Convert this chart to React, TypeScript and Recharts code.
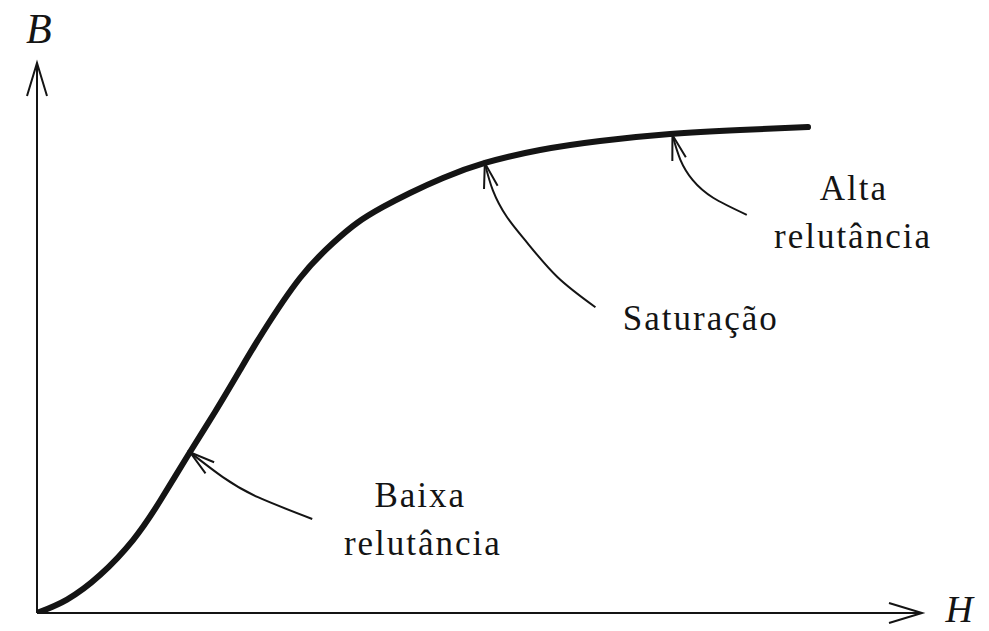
import React from "react";
import {
  Line,
  LineChart,
  ReferenceDot,
  ReferenceLine,
  XAxis,
  YAxis,
} from "recharts";

// B-H magnetisation curve (arbitrary units, 0..100 on both axes)
const curveH = [0, 3.39, 7.12, 10.85, 13.9, 17.29, 20.11, 22.94, 25.54, 29.72, 33.45, 36.16, 39.1, 42.15, 45.88, 50.62, 56.84, 63.62, 71.53, 79.44, 87.12];
const curveB = [0, 2.45, 6.91, 13.27, 20.36, 29.27, 36.55, 44.18, 51.09, 60.91, 67.27, 70.91, 73.82, 76.36, 79.09, 81.82, 84.18, 85.82, 87.09, 87.82, 88.36];

// annotation arrows, drawn from tail to tip
const lowH = [31.1, 24.9, 21.0, 17.3];
const lowB = [17.1, 21.1, 24.7, 29.2];
const satH = [63.1, 58.8, 55.4, 53.1, 51.5, 50.6];
const satB = [55.6, 61.1, 67.3, 72.0, 76.9, 81.8];
const highH = [80.2, 76.4, 74.1, 72.7, 71.8];
const highB = [72.4, 75.5, 78.7, 82.4, 86.9];

const labels = [
  { text: "Baixa", h: 43.3, b: 19.3 },
  { text: "relutância", h: 43.6, b: 10.5 },
  { text: "Saturação", h: 75.0, b: 51.5 },
  { text: "Alta", h: 92.3, b: 75.1 },
  { text: "relutância", h: 92.2, b: 66.4 },
];

const axisLabels = [
  { text: "B", h: 0.2, b: 103.6, size: 42 },
  { text: "H", h: 104.2, b: -1.64, size: 38 },
];

const toRows = (hs: number[], bs: number[]) => hs.map((h, i) => ({ h, b: bs[i] }));

const curveData = toRows(curveH, curveB);
const arrows = [toRows(lowH, lowB), toRows(satH, satB), toRows(highH, highB)];

const ink = "#141414";

const axisShape = (props: any) => (
  <line
    x1={props.x1}
    y1={props.y1}
    x2={props.x2}
    y2={props.y2}
    stroke={ink}
    strokeWidth={2}
    markerEnd="url(#axisHead)"
  />
);

const textLabel = (text: string, size: number, italic: boolean, spacing: number) => (props: any) => {
  const { viewBox } = props;
  const x = viewBox.x + (viewBox.width || 0) / 2;
  const y = viewBox.y + (viewBox.height || 0) / 2;
  return (
    <text
      x={x}
      y={y}
      textAnchor="middle"
      fill={ink}
      fontFamily="'Liberation Serif', serif"
      fontSize={size}
      fontStyle={italic ? "italic" : "normal"}
      letterSpacing={spacing}
    >
      {text}
    </text>
  );
};

export default function App() {
  return (
    <div style={{ position: "absolute", left: 0, top: 0, width: 989, height: 631, background: "#fff" }}>
      <svg width={0} height={0} style={{ position: "absolute" }}>
        <defs>
          <marker
            id="axisHead"
            markerUnits="userSpaceOnUse"
            markerWidth={40}
            markerHeight={30}
            refX={34}
            refY={11}
            orient="auto"
          >
            <path d="M1,1 L34,11 L1,21" fill="none" stroke={ink} strokeWidth={2} />
          </marker>
          <marker
            id="noteHead"
            markerUnits="userSpaceOnUse"
            markerWidth={30}
            markerHeight={20}
            refX={26}
            refY={8}
            orient="auto"
          >
            <path d="M1,1 L26,8 L1,15" fill="none" stroke={ink} strokeWidth={2} />
          </marker>
        </defs>
      </svg>
      <LineChart width={989} height={631} margin={{ top: 63, right: 67, left: 37, bottom: 18 }}>
        <XAxis type="number" dataKey="h" domain={[0, 100]} hide allowDataOverflow />
        <YAxis type="number" dataKey="b" domain={[0, 100]} hide allowDataOverflow />

        <ReferenceLine segment={[{ x: 0, y: 0 }, { x: 100, y: 0 }]} shape={axisShape} ifOverflow="visible" />
        <ReferenceLine segment={[{ x: 0, y: 0 }, { x: 0, y: 100 }]} shape={axisShape} ifOverflow="visible" />

        <Line
          data={curveData}
          dataKey="b"
          type="natural"
          stroke={ink}
          strokeWidth={6}
          strokeLinecap="round"
          dot={false}
          activeDot={false}
          isAnimationActive={false}
        />

        {arrows.map((rows, i) => (
          <Line
            key={`arrow-${i}`}
            data={rows}
            dataKey="b"
            type="natural"
            stroke={ink}
            strokeWidth={2}
            dot={false}
            activeDot={false}
            markerEnd="url(#noteHead)"
            isAnimationActive={false}
          />
        ))}

        {labels.map((l, i) => (
          <ReferenceDot
            key={`label-${i}`}
            x={l.h}
            y={l.b}
            r={0}
            fill="none"
            stroke="none"
            ifOverflow="visible"
            label={textLabel(l.text, 35, false, 2)}
          />
        ))}

        {axisLabels.map((l, i) => (
          <ReferenceDot
            key={`axis-label-${i}`}
            x={l.h}
            y={l.b}
            r={0}
            fill="none"
            stroke="none"
            ifOverflow="visible"
            label={textLabel(l.text, l.size, true, 0)}
          />
        ))}
      </LineChart>
    </div>
  );
}
